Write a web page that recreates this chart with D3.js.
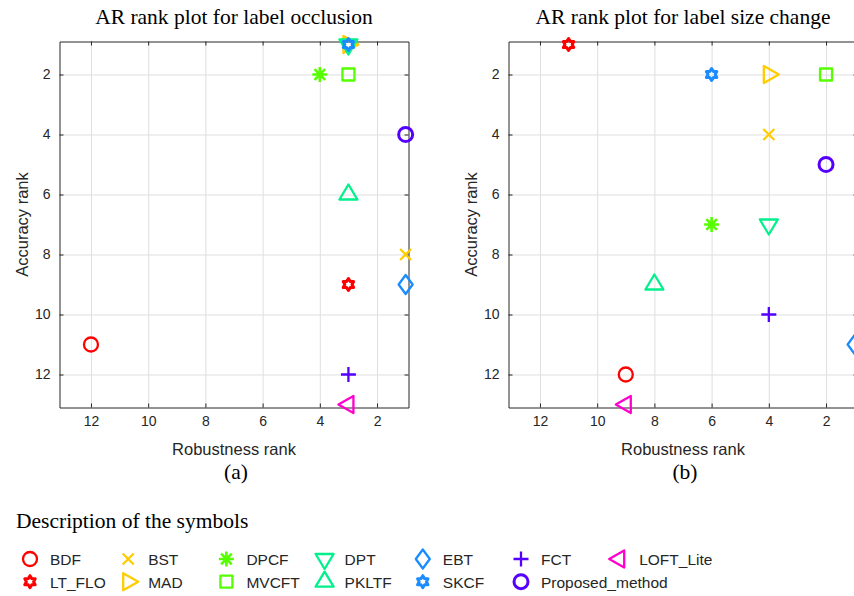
<!DOCTYPE html>
<html>
<head>
<meta charset="utf-8">
<script src="https://cdn.jsdelivr.net/npm/d3@7"></script>
<style>
body { margin: 0; background: #fff; }
.tick text { font-family: "Liberation Sans", Arial, sans-serif; font-size: 14px; fill: #262626; }
</style>
</head>
<body>
<svg id="fig" width="854" height="596"></svg>
<script>
// methods, in legend order (column by column)
var methods = ["BDF", "LT_FLO", "BST", "MAD", "DPCF", "MVCFT", "DPT", "PKLTF", "EBT", "SKCF", "FCT", "Proposed_method", "LOFT_Lite"];

// (a) label occlusion
var occlRobust   = [12, 3, 1, 3, 4, 3, 3, 3, 1, 3, 3, 1, 3];
var occlAccuracy = [11, 9, 8, 1, 2, 2, 1, 6, 9, 1, 12, 4, 13];

// (b) label size change
var sizeRobust   = [9, 11, 4, 4, 6, 2, 4, 8, 1, 6, 4, 2, 9];
var sizeAccuracy = [12, 1, 4, 2, 7, 2, 7, 9, 11, 2, 10, 5, 13];

var xTicks = [12, 10, 8, 6, 4, 2];
var yTicks = [2, 4, 6, 8, 10, 12];

var shapes = ["circle", "hexagram", "x", "right", "asterisk", "square", "down", "up", "diamond", "hexagram", "plus", "circle", "left"];
var colors = ["#ff0000", "#ff0000", "#ffcc00", "#ffcc00", "#55ff00", "#55ff00", "#00f08c", "#00f08c",
              "#1a8cff", "#1a8cff", "#5500ff", "#5500ff", "#ff00cc"];

var svg = d3.select("#fig");
var serif = "'Liberation Serif', 'Times New Roman', serif";
var sans = "'Liberation Sans', Arial, sans-serif";

// marker outline for a shape, centred at 0,0
function markerPath(shape) {
    var p = d3.path();
    if (shape == "circle") {
        p.moveTo(7, 0);
        p.arc(0, 0, 7, 0, 2 * Math.PI);
    } else if (shape == "square") {
        p.rect(-6, -6, 12, 12);
    } else if (shape == "diamond") {
        p.moveTo(0, -9.5); p.lineTo(7, 0); p.lineTo(0, 9.5); p.lineTo(-7, 0); p.closePath();
    } else if (shape == "up") {
        p.moveTo(0, -10); p.lineTo(9, 5); p.lineTo(-9, 5); p.closePath();
    } else if (shape == "down") {
        p.moveTo(0, 10); p.lineTo(9, -5); p.lineTo(-9, -5); p.closePath();
    } else if (shape == "right") {
        p.moveTo(10, 0); p.lineTo(-5, 8.5); p.lineTo(-5, -8.5); p.closePath();
    } else if (shape == "left") {
        p.moveTo(-10, 0); p.lineTo(5, 8.5); p.lineTo(5, -8.5); p.closePath();
    } else if (shape == "x") {
        p.moveTo(-5.5, -5.5); p.lineTo(5.5, 5.5);
        p.moveTo(5.5, -5.5); p.lineTo(-5.5, 5.5);
    } else if (shape == "plus") {
        p.moveTo(-7.5, 0); p.lineTo(7.5, 0);
        p.moveTo(0, -7.5); p.lineTo(0, 7.5);
    } else if (shape == "asterisk") {
        for (var k = 0; k < 4; k++) {
            var a = k * Math.PI / 4;
            p.moveTo(-7.5 * Math.cos(a), -7.5 * Math.sin(a));
            p.lineTo(7.5 * Math.cos(a), 7.5 * Math.sin(a));
        }
    } else if (shape == "hexagram") {
        for (var k = 0; k < 12; k++) {
            var r = (k % 2 == 0) ? 6 : 3.6;
            var a = -Math.PI / 2 + k * Math.PI / 6;
            if (k == 0) p.moveTo(r * Math.cos(a), r * Math.sin(a));
            else p.lineTo(r * Math.cos(a), r * Math.sin(a));
        }
        p.closePath();
    }
    return p.toString();
}

function strokeWidth(i) {
    if (methods[i] == "Proposed_method") return 3;
    if (shapes[i] == "hexagram") return 3;
    if (shapes[i] == "asterisk") return 2.6;
    return 2.3;
}

var plotTop = 41.5, plotBottom = 407.5;

function drawPanel(left, title, robust, accuracy, tag) {
    var right = left + 349;
    var x = d3.scaleLinear().domain([13.1, 0.9]).range([left, right]);
    var y = d3.scaleLinear().domain([0.9, 13.1]).range([plotTop, plotBottom]);
    var g = svg.append("g");

    // grid
    g.append("g")
        .attr("transform", "translate(0," + plotBottom + ")")
        .call(d3.axisBottom(x).tickValues(xTicks).tickSize(-(plotBottom - plotTop)).tickFormat(""))
        .call(s => s.select(".domain").remove())
        .selectAll("line").attr("stroke", "#dfdfdf");
    g.append("g")
        .attr("transform", "translate(" + left + ",0)")
        .call(d3.axisLeft(y).tickValues(yTicks).tickSize(-(right - left)).tickFormat(""))
        .call(s => s.select(".domain").remove())
        .selectAll("line").attr("stroke", "#dfdfdf");

    // box with inward ticks
    var xb = g.append("g").attr("transform", "translate(0," + plotBottom + ")")
        .call(d3.axisBottom(x).tickValues(xTicks).tickSize(-4).tickSizeOuter(0).tickPadding(14));
    var xt = g.append("g").attr("transform", "translate(0," + plotTop + ")")
        .call(d3.axisTop(x).tickValues(xTicks).tickSize(-4).tickSizeOuter(0).tickFormat(""));
    var yl = g.append("g").attr("transform", "translate(" + left + ",0)")
        .call(d3.axisLeft(y).tickValues(yTicks).tickSize(-4).tickSizeOuter(0).tickPadding(9));
    var yr = g.append("g").attr("transform", "translate(" + right + ",0)")
        .call(d3.axisRight(y).tickValues(yTicks).tickSize(-4).tickSizeOuter(0).tickFormat(""));
    [xb, xt, yl, yr].forEach(function(a) {
        a.selectAll(".domain, line").attr("stroke", "#262626");
    });
    xb.selectAll("text").attr("dy", "0.35em");

    // axis labels
    g.append("text")
        .attr("x", (left + right) / 2).attr("y", 454.5)
        .attr("text-anchor", "middle")
        .style("font-family", sans).style("font-size", "16.5px").style("fill", "#262626")
        .text("Robustness rank");
    g.append("text")
        .attr("transform", "translate(" + (left - 32) + "," + ((plotTop + plotBottom) / 2) + ") rotate(-90)")
        .attr("text-anchor", "middle")
        .style("font-family", sans).style("font-size", "16.5px").style("fill", "#262626")
        .text("Accuracy rank");

    // title and tag
    g.append("text")
        .attr("x", (left + right) / 2).attr("y", 24)
        .attr("text-anchor", "middle")
        .style("font-family", serif).style("font-size", "21.5px")
        .text(title);
    g.append("text")
        .attr("x", (left + right) / 2 + 2).attr("y", 479)
        .attr("text-anchor", "middle")
        .style("font-family", serif).style("font-size", "21.5px")
        .text(tag);

    // markers
    g.selectAll(".marker")
        .data(methods)
        .join("path")
        .attr("class", "marker")
        .attr("transform", (d, i) => "translate(" + x(robust[i]) + "," + y(accuracy[i]) + ")")
        .attr("d", (d, i) => markerPath(shapes[i]))
        .attr("fill", "none")
        .attr("stroke", (d, i) => colors[i])
        .attr("stroke-width", (d, i) => strokeWidth(i))
        .attr("stroke-linejoin", "round");
}

drawPanel(59.5, "AR rank plot for label occlusion", occlRobust, occlAccuracy, "(a)");
drawPanel(508.5, "AR rank plot for label size change", sizeRobust, sizeAccuracy, "(b)");

// legend
svg.append("text")
    .attr("x", 16).attr("y", 528)
    .style("font-family", serif).style("font-size", "21.5px")
    .text("Description of the symbols");

var legend = svg.append("g");
methods.forEach(function(m, i) {
    var col = Math.floor(i / 2), row = i % 2;
    var cx = 30 + col * 98.2;
    var cy = 559 + row * 22.7;
    legend.append("path")
        .attr("transform", "translate(" + cx + "," + cy + ")")
        .attr("d", markerPath(shapes[i]))
        .attr("fill", "none")
        .attr("stroke", colors[i])
        .attr("stroke-width", strokeWidth(i))
        .attr("stroke-linejoin", "round");
    legend.append("text")
        .attr("x", cx + 20).attr("y", cy + 6)
        .style("font-family", sans).style("font-size", "15.5px").style("fill", "#262626")
        .text(m);
});
</script>
</body>
</html>
